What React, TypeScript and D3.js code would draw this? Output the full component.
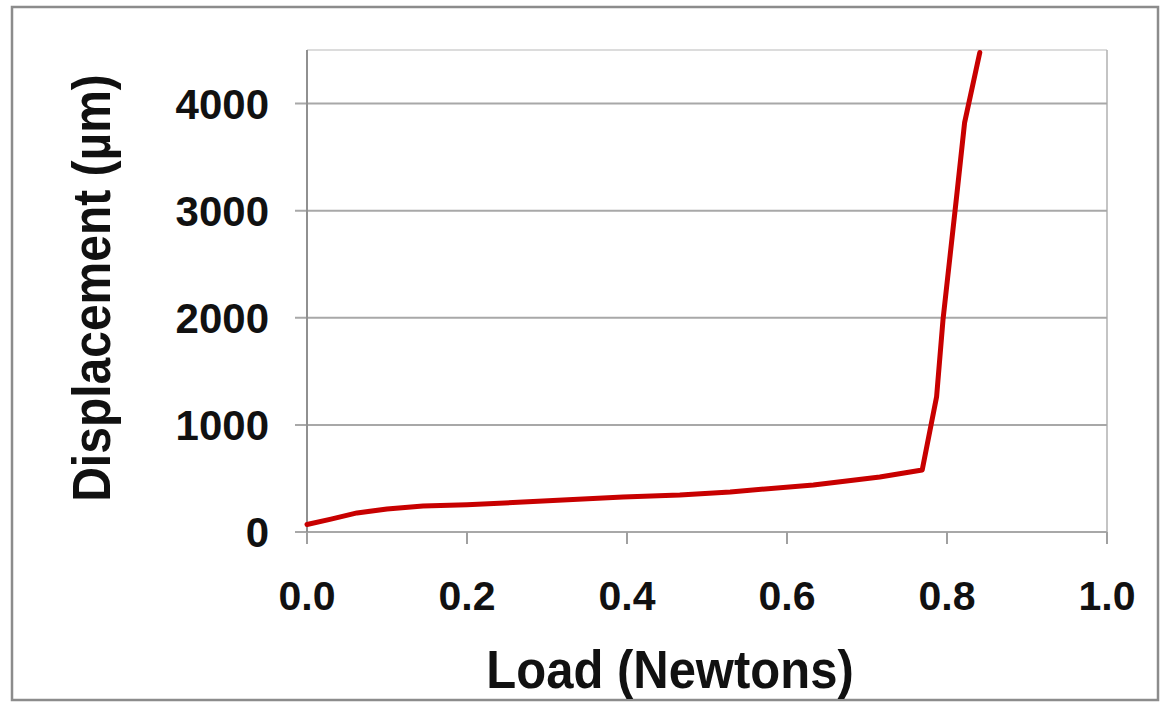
import React from "react";
import * as d3 from "d3";

const loadN = [0.0, 0.03, 0.0625, 0.1, 0.145, 0.2, 0.27, 0.395, 0.466, 0.529, 0.633, 0.716, 0.769, 0.787, 0.795, 0.812, 0.822, 0.841];
const displacementUm = [70, 120, 178, 215, 243, 255, 280, 327, 346, 374, 439, 514, 579, 1262, 1981, 3131, 3822, 4477];
const xTicks = [0, 0.2, 0.4, 0.6, 0.8, 1.0];
const yTicks = [0, 1000, 2000, 3000, 4000];

const W = 1163, H = 707;
const M = { left: 307, right: 1107, top: 50, bottom: 532 };
const FONT = "'Liberation Sans', Arial, sans-serif";

export default function App() {
  const x = d3.scaleLinear().domain([0, 1]).range([M.left, M.right]);
  const y = d3.scaleLinear().domain([0, 4500]).range([M.bottom, M.top]);
  const pts = loadN.map((v, i) => [v, displacementUm[i]] as [number, number]);
  const line = d3.line<[number, number]>().x(d => x(d[0])).y(d => y(d[1])).curve(d3.curveLinear);
  return (
    <svg width={W} height={H} style={{ position: "absolute", left: 0, top: 0, background: "#fff" }}>
      <rect x={12} y={7} width={1146} height={693} fill="#fff" stroke="#8c8c8c" strokeWidth={2.5} />
      <line x1={M.left} x2={M.right} y1={M.top} y2={M.top} stroke="#d0d0d0" strokeWidth={1.5} />
      <line x1={M.right} x2={M.right} y1={M.top} y2={M.bottom + 10} stroke="#b0b0b0" strokeWidth={1.5} />
      {yTicks.map(t => (
        <g key={t}>
          <line x1={M.left - 12} x2={M.right} y1={y(t)} y2={y(t)} stroke="#a8a8a8" strokeWidth={2} />
          <text x={269} y={y(t)} dy="0.36em" textAnchor="end" fontFamily={FONT} fontWeight="bold" fontSize={42} fill="#111">{t}</text>
        </g>
      ))}
      <line x1={M.left} x2={M.left} y1={M.top} y2={M.bottom + 12} stroke="#909090" strokeWidth={2} />
      {xTicks.map(t => (
        <g key={t}>
          <line x1={x(t)} x2={x(t)} y1={M.bottom} y2={M.bottom + 12} stroke="#a0a0a0" strokeWidth={2} />
          <text x={x(t)} y={610} textAnchor="middle" fontFamily={FONT} fontWeight="bold" fontSize={41} fill="#111">{t.toFixed(1)}</text>
        </g>
      ))}
      <path d={line(pts) || ""} fill="none" stroke="#c80000" strokeWidth={5} strokeLinejoin="round" strokeLinecap="round" />
      <text transform="translate(670,688) scale(1,1.1)" textAnchor="middle" fontFamily={FONT} fontWeight="bold" fontSize={49} fill="#111">Load (Newtons)</text>
      <text transform="translate(110,288) rotate(-90) scale(1,1.1)" textAnchor="middle" fontFamily={FONT} fontWeight="bold" fontSize={48} fill="#111">Displacement (µm)</text>
    </svg>
  );
}
